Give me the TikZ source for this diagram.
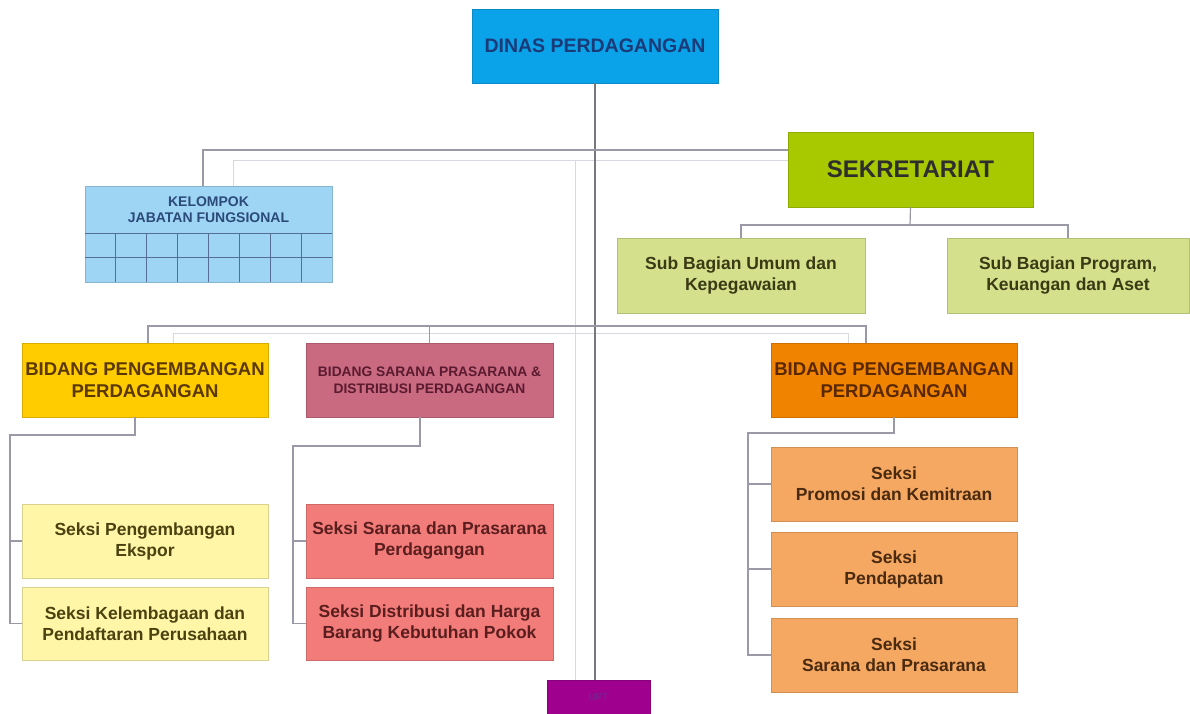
\documentclass[tikz,border=0pt]{standalone}
\usepackage{fontspec}
\setmainfont{Liberation Sans}
\definecolor{dinasF}{HTML}{0AA2E8}\definecolor{dinasT}{HTML}{1A3A78}
\definecolor{sekF}{HTML}{A8C800}\definecolor{sekT}{HTML}{2E2E2E}
\definecolor{subF}{HTML}{D4E08C}\definecolor{subT}{HTML}{3A3A14}
\definecolor{kelF}{HTML}{9ED5F5}\definecolor{kelT}{HTML}{2C4A78}
\definecolor{bAF}{HTML}{FFCC00}\definecolor{bAT}{HTML}{5A3800}
\definecolor{bBF}{HTML}{C96A80}\definecolor{bBT}{HTML}{5A1A30}
\definecolor{bCF}{HTML}{F08400}\definecolor{bCT}{HTML}{5A2800}
\definecolor{sAF}{HTML}{FFF6A8}\definecolor{sAT}{HTML}{4A4210}
\definecolor{sBF}{HTML}{F27C7A}\definecolor{sBT}{HTML}{5A1E1E}
\definecolor{sCF}{HTML}{F5A862}\definecolor{sCT}{HTML}{4A2A10}
\definecolor{uptF}{HTML}{A0008E}\definecolor{uptT}{HTML}{7A2090}
\definecolor{lineC}{HTML}{9A9AA6}\definecolor{mainC}{HTML}{77777F}
\definecolor{faintC}{HTML}{D8D8E0}
\begin{document}
\begin{tikzpicture}[x=1pt,y=-1pt,
  box/.style={draw=#1!85!black, fill=#1, line width=0.8pt, inner sep=2pt, align=center, font=\bfseries},
  wide/.style={minimum width=246pt, minimum height=74pt},
  big/.style={font=\bfseries\fontsize{19.5}{22}\selectfont},
  mid/.style={font=\bfseries\fontsize{17.5}{21}\selectfont},
  conn/.style={draw=lineC, line width=1.2pt},
  mainline/.style={draw=mainC, line width=1.2pt},
  faint/.style={draw=faintC, line width=1pt},
  gridline/.style={draw=kelT!80, line width=0.9pt}]
\useasboundingbox (0,0) rectangle (1190,713);
\fill[white] (0,0) rectangle (1190,713);

% faint ghost lines
\draw[faint] (788,160) -- (233,160) -- (233,186);
\draw[faint] (575,160) -- (575,680);
\draw[faint] (173,343) -- (173,333) -- (848,333) -- (848,343);

% nodes
\node[box=dinasF, wide, text=dinasT, big] (DINAS) at (595,46) {DINAS PERDAGANGAN};
\node[box=sekF, minimum width=245pt, minimum height=75pt, text=sekT, font=\bfseries\fontsize{24}{28}\selectfont] (SEK) at (910.5,169.5) {SEKRETARIAT};
\node[box=kelF, minimum width=247pt, minimum height=96pt] (KEL) at (208.5,234) {};
\node[text=kelT, align=center, font=\bfseries\fontsize{14}{16}\selectfont] (KELT) at (208.5,209.5) {KELOMPOK\\JABATAN FUNGSIONAL};
\node[box=subF, minimum width=248pt, minimum height=75pt, text=subT, mid] (SBU) at (741,275.5) {Sub Bagian Umum dan\\Kepegawaian};
\node[box=subF, minimum width=242pt, minimum height=75pt, text=subT, mid] (SBP) at (1068,275.5) {Sub Bagian Program,\\Keuangan dan Aset};

\node[box=bAF, wide, text=bAT, font=\bfseries\fontsize{18.5}{22}\selectfont] (B1) at (145,380) {BIDANG PENGEMBANGAN\\PERDAGANGAN};
\node[box=bBF, minimum width=247pt, minimum height=74pt, text=bBT, font=\bfseries\fontsize{13.8}{17}\selectfont] (B2) at (429.5,380) {BIDANG SARANA PRASARANA \&\\DISTRIBUSI PERDAGANGAN};
\node[box=bCF, wide, text=bCT, font=\bfseries\fontsize{18.5}{22}\selectfont] (B3) at (894,380) {BIDANG PENGEMBANGAN\\PERDAGANGAN};

\node[box=sAF, wide, text=sAT, mid] (S11) at (145,541) {Seksi Pengembangan\\Ekspor};
\node[box=sAF, minimum width=246pt, minimum height=73pt, text=sAT, mid] (S12) at (145,623.5) {Seksi Kelembagaan dan\\Pendaftaran Perusahaan};
\node[box=sBF, minimum width=247pt, minimum height=74pt, text=sBT, mid] (S21) at (429.5,541) {Seksi Sarana dan Prasarana\\Perdagangan};
\node[box=sBF, minimum width=247pt, minimum height=73pt, text=sBT, mid] (S22) at (429.5,623.5) {Seksi Distribusi dan Harga\\Barang Kebutuhan Pokok};
\node[box=sCF, wide, text=sCT, mid] (S31) at (894,484) {Seksi\\Promosi dan Kemitraan};
\node[box=sCF, wide, text=sCT, mid] (S32) at (894,569) {Seksi\\Pendapatan};
\node[box=sCF, wide, text=sCT, mid] (S33) at (894,655) {Seksi\\Sarana dan Prasarana};

\node[box=uptF, minimum width=103pt, minimum height=34pt, text=uptT, font=\bfseries\fontsize{10}{12}\selectfont] (UPT) at (598.5,697) {UPT};

% grid of Kelompok
\draw[gridline] (KEL.west |- 0,233) -- (KEL.east |- 0,233);
\draw[gridline] (KEL.west |- 0,257.5) -- (KEL.east |- 0,257.5);
\foreach \i in {1,...,7} \draw[gridline] ({85+\i*30.875},233) -- ({85+\i*30.875},282);

% connectors
\draw[mainline] (DINAS.south) -- (DINAS.south |- UPT.north);
\coordinate (k1) at (203,150);
\draw[conn] (SEK.west |- k1) -- (k1) -- (k1 |- KEL.north);
\coordinate (s1) at (910,225);
\draw[conn] (SEK.south) -- (s1);
\draw[conn] (SBU.north) -- (SBU.north |- s1) -- (SBP.north |- s1) -- (SBP.north);

\coordinate (bar) at (0,326);
\coordinate (b1top) at (148,343);
\coordinate (b3top) at (866,343);
\draw[conn] (b1top) -- (b1top |- bar) -- (b3top |- bar) -- (b3top);
\draw[conn] (B2.north |- bar) -- (B2.north);

\coordinate (e1) at (135,435); \coordinate (v1) at (10,435);
\draw[conn] (B1.south -| e1) -- (e1) -- (v1) |- (S12.west);
\draw[conn] (v1 |- S11.west) -- (S11.west);

\coordinate (e2) at (420,446); \coordinate (v2) at (293,446);
\draw[conn] (B2.south -| e2) -- (e2) -- (v2) |- (S22.west);
\draw[conn] (v2 |- S21.west) -- (S21.west);

\coordinate (e3) at (894,433); \coordinate (v3) at (748,433);
\draw[conn] (B3.south) -- (e3) -- (v3) |- (S33.west);
\draw[conn] (v3 |- S31.west) -- (S31.west);
\draw[conn] (v3 |- S32.west) -- (S32.west);
\end{tikzpicture}
\end{document}
